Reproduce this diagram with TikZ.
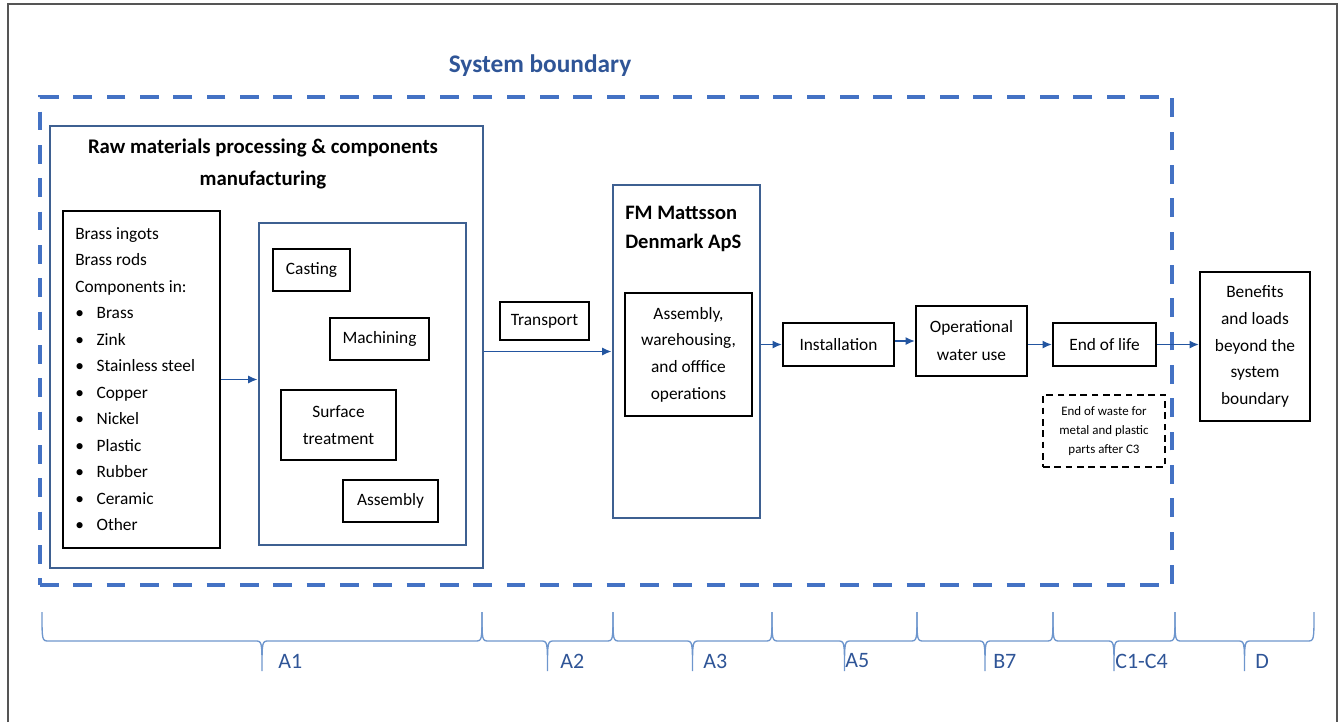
\documentclass[tikz,border=0pt]{standalone}
\usepackage{fontspec}
\setmainfont{Carlito}
\usetikzlibrary{fit,arrows.meta}

\definecolor{sysblue}{RGB}{68,114,196}
\definecolor{boxblue}{RGB}{62,96,145}
\definecolor{flowblue}{RGB}{35,85,160}
\definecolor{titleblue}{RGB}{47,85,151}
\definecolor{braceblue}{RGB}{110,150,205}
\definecolor{framegray}{RGB}{85,85,85}

\tikzset{
  sysframe/.style={draw=sysblue, line width=3.2pt, dash pattern=on 14pt off 11pt, inner sep=0pt},
  bluebox/.style={draw=boxblue, line width=2.2pt, inner sep=0pt},
  size/.style 2 args={minimum width=#1*0.75pt, minimum height=#2*0.75pt},
  blackbox/.style={draw=black, line width=1.6pt, inner sep=0pt, align=center},
  thinbox/.style={draw=black, line width=0.8pt, inner sep=0pt},
  wastebox/.style={draw=black, line width=1.5pt, dash pattern=on 5pt off 3.5pt, inner sep=0pt,
    align=center, font=\fontsize{9.7}{14.3}\selectfont},
  headtext/.style={font=\bfseries\fontsize{15.6}{24}\selectfont, inner sep=0pt},
  flow/.style={draw=flowblue, line width=1.1pt, -{Latex[length=7pt,width=6pt]}},
  phase/.style={draw=braceblue, line width=1pt},
  phaselabel/.style={anchor=west, inner sep=0pt, text=titleblue, font=\fontsize{16.5}{18}\selectfont},
}

\begin{document}
\begin{tikzpicture}[x=0.75pt, y=-0.75pt, font=\fontsize{13}{20}\selectfont]
  \useasboundingbox (0,0) rectangle (1343,722);
  \draw[framegray, line width=1.5pt] (8,722) -- (8,4) -- (1337,4) -- (1337,722);

  % system boundary
  \node[sysframe, fit={(40,97) (1172,585)}] (sys) {};
  \node[text=titleblue, font=\bfseries\fontsize{19}{22}\selectfont] (systitle) at (540,66) {System boundary};

  % A1
  \node[bluebox, fit={(50,126) (483,568)}] (raw) {};
  \node[headtext, align=center] (rawtitle) at (263,164) {Raw materials processing \& components\\manufacturing};
  \node[blackbox, fit={(63,211) (220,548)}] (inputs) {};
  \foreach \txt [count=\i from 0] in {Brass ingots, Brass rods, Components in:}
    \node[anchor=base west, inner sep=0pt] (head-\i) at (75,{239+26.5*\i}) {\txt};
  \foreach \txt [count=\i from 3] in {Brass, Zink, Stainless steel, Copper, Nickel, Plastic, Rubber, Ceramic, Other}
    \node[anchor=base west, inner sep=0pt] (mat-\i) at (75,{239+26.5*\i}) {\makebox[16pt][l]{\textbullet}\txt};

  \node[bluebox, fit={(259,223) (466,545)}] (proc) {};
  \node[blackbox, size={77}{42}] (casting) at (311.5,270) {Casting};
  \node[blackbox, size={99}{42}] (machining) at (379.5,339) {Machining};
  \node[blackbox, size={115}{70}] (surface) at (338.5,425) {Surface\\treatment};
  \node[blackbox, size={95}{42}] (assembly) at (390.5,501) {Assembly};
  \draw[flow] (inputs.east) -- (inputs.east -| proc.west);

  % A2
  \node[thinbox, size={89}{38}] (transport) at (544.5,321) {Transport};

  % A3
  \node[bluebox, fit={(613,185) (760,518)}] (fm) {};
  \node[headtext, anchor=west, align=left, font=\bfseries\fontsize{15.4}{21.75}\selectfont] (fmtitle) at (625,229) {FM Mattsson\\Denmark ApS};
  \node[blackbox, size={127}{123}] (ops) at (688.5,354.5) {Assembly,\\warehousing,\\and offfice\\operations};
  \draw[flow] (raw.east |- fm.west) -- (fm.west);

  % A5 - D
  \node[blackbox, size={111}{43}] (install) at (838.5,344.5) {Installation};
  \node[blackbox, size={111}{70}, font=\fontsize{13}{21}\selectfont] (water) at (971.5,341) {Operational\\water use};
  \node[blackbox, size={103}{43}] (eol) at (1104.5,344.5) {End of life};
  \node[wastebox, size={122}{72}] (waste) at (1104,431) {End of waste for\\metal and plastic\\parts after C3};
  \node[blackbox, size={110}{149}] (benefits) at (1255,346.5) {Benefits\\and loads\\beyond the\\system\\boundary};

  \draw[flow] (fm.east |- install.west) -- (install.west);
  \draw[flow] (install.east |- water.west) -- (water.west);
  \draw[flow] (water.east |- eol.west) -- (eol.west);
  \draw[flow] (eol.east) -- (eol.east -| benefits.west);

  % life cycle stages
  \foreach \xa/\xb/\lx/\lab [count=\i] in {42/482/278/A1, 482/613/560/A2, 613/772/703/A3,
      772/917/845/A5, 917/1053/993/B7, 1053/1175/1115/C1-C4, 1175/1314/1255/D} {
    \pgfmathsetmacro\xm{(\xa+\xb)/2}
    \draw[phase] (\xa,612) .. controls (\xa,641) and (\xa,641) .. (\xa+7,641) -- (\xm-7,641)
      .. controls (\xm,641) and (\xm,641) .. (\xm,671)
      .. controls (\xm,641) and (\xm,641) .. (\xm+7,641) -- (\xb-7,641)
      .. controls (\xb,641) and (\xb,641) .. (\xb,612);
    \node[phaselabel] (stage-\i) at (\lx,661) {\lab};
  }
\end{tikzpicture}
\end{document}
